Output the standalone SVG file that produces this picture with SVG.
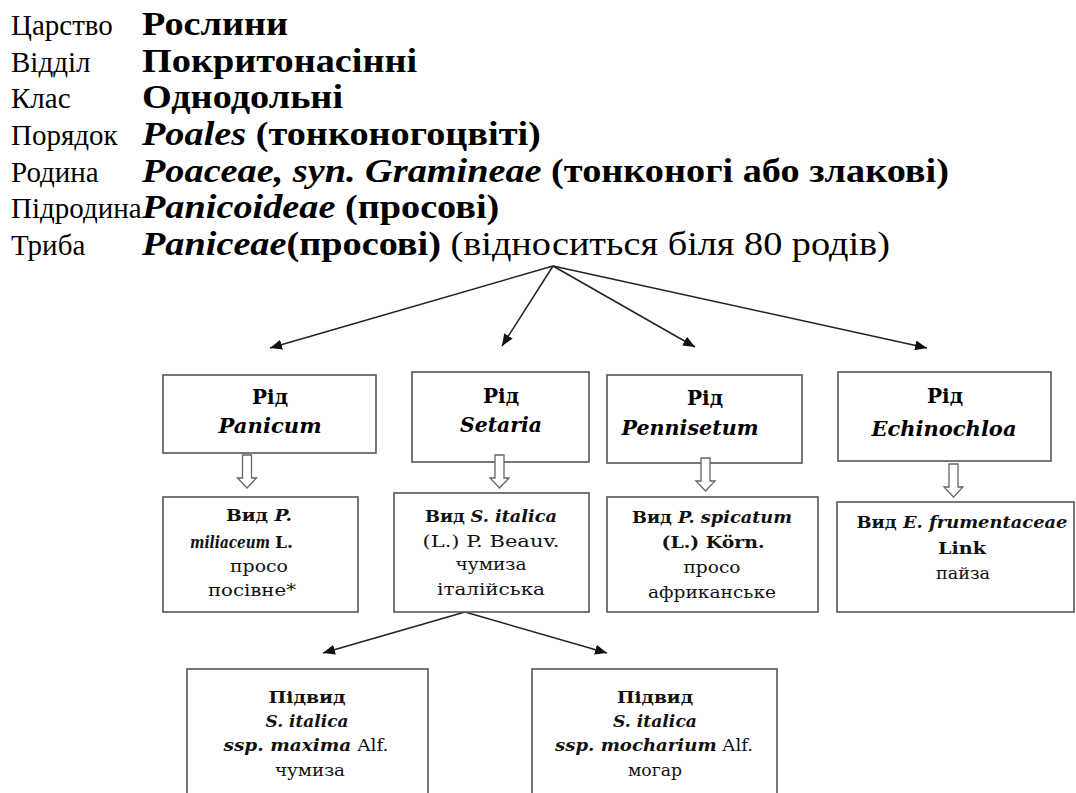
<svg xmlns="http://www.w3.org/2000/svg" width="1076" height="793" viewBox="0 0 1076 793">
<style>
.t{font-family:"Liberation Serif","Times New Roman",serif;font-size:29px;fill:#000}
.v{font-family:"Liberation Serif","Times New Roman",serif;font-size:33px;font-weight:bold;fill:#000}
.r{font-weight:normal}
.b{font-weight:bold}
.i{font-style:italic}
.bx{fill:#fff;stroke:#555;stroke-width:1.6}
.g{font-family:"DejaVu Serif",serif;font-size:20px;font-weight:bold;text-anchor:middle;fill:#000}
.s{font-family:"DejaVu Serif",serif;font-size:17px;text-anchor:middle;fill:#111}
.st{text-anchor:start}
.ln{stroke:#222;stroke-width:1.5;fill:none}
.ha{fill:#fff;stroke:#666;stroke-width:1.3}
</style>
<defs>
<marker id="ah" viewBox="0 0 12 10" refX="12" refY="5" markerWidth="12" markerHeight="10" markerUnits="userSpaceOnUse" orient="auto"><path d="M0,0 L12,5 L0,10 z" fill="#111"/></marker>
</defs>
<rect width="1076" height="793" fill="#fff"/>
<g id="taxonomy">
<text class="t" x="11" y="35">Царство</text>
<text class="t" x="11" y="72">Відділ</text>
<text class="t" x="11" y="108">Клас</text>
<text class="t" x="11" y="145">Порядок</text>
<text class="t" x="11" y="182">Родина</text>
<text class="t" x="11" y="218">Підродина</text>
<text class="t" x="11" y="255">Триба</text>
<g transform="translate(142,0) scale(1.16,1)">
<text class="v" x="0" y="35">Рослини</text>
<text class="v" x="0" y="72">Покритонасінні</text>
<text class="v" x="0" y="108">Однодольні</text>
<text class="v" x="0" y="145"><tspan class="i">Poales</tspan> (тонконогоцвіті)</text>
<text class="v" x="0" y="182"><tspan class="i">Poaceae, syn. Gramineae</tspan> (тонконогі або злакові)</text>
<text class="v" x="0" y="218"><tspan class="i">Panicoideae</tspan> (просові)</text>
<text class="v" x="0" y="255"><tspan class="i">Paniceae</tspan>(просові)<tspan class="r"> (відноситься біля 80 родів)</tspan></text>
</g>
</g>
<g id="connectors">
<line class="ln" x1="553" y1="266" x2="270" y2="348" marker-end="url(#ah)"/>
<line class="ln" x1="553" y1="266" x2="502" y2="346" marker-end="url(#ah)"/>
<line class="ln" x1="553" y1="266" x2="695" y2="347" marker-end="url(#ah)"/>
<line class="ln" x1="553" y1="266" x2="927" y2="348" marker-end="url(#ah)"/>
<line class="ln" x1="465" y1="612" x2="323" y2="653" marker-end="url(#ah)"/>
<line class="ln" x1="465" y1="612" x2="607" y2="653" marker-end="url(#ah)"/>
</g>
<g id="genus-panicum">
<rect class="bx" x="163" y="375" width="213" height="78"/>
<text class="g" x="270" y="404">Рід</text>
<text class="g i" x="270" y="433" textLength="103" lengthAdjust="spacingAndGlyphs">Panicum</text>
</g>
<g id="genus-setaria">
<rect class="bx" x="412" y="372" width="177" height="90"/>
<text class="g" x="501" y="403">Рід</text>
<text class="g i" x="501" y="432" textLength="82" lengthAdjust="spacingAndGlyphs">Setaria</text>
</g>
<g id="genus-pennisetum">
<rect class="bx" x="607" y="375" width="195" height="88"/>
<text class="g" x="705" y="405">Рід</text>
<text class="g i" x="690" y="435" textLength="137" lengthAdjust="spacingAndGlyphs">Pennisetum</text>
</g>
<g id="genus-echinochloa">
<rect class="bx" x="838" y="372" width="213" height="89"/>
<text class="g" x="945" y="403">Рід</text>
<text class="g i" x="944" y="436" textLength="145" lengthAdjust="spacingAndGlyphs">Echinochloa</text>
</g>
<g id="species-panicum">
<rect class="bx" x="163" y="497" width="195" height="115"/>
<text class="s b" x="259" y="521" textLength="66" lengthAdjust="spacingAndGlyphs">Вид <tspan class="i">P.</tspan></text>
<text class="s b i st" x="190" y="548" textLength="80" lengthAdjust="spacingAndGlyphs">miliaceum</text>
<text class="s b st" x="275" y="548">L.</text>
<text class="s" x="259" y="572" textLength="58" lengthAdjust="spacingAndGlyphs">просо</text>
<text class="s" x="252" y="596" textLength="88" lengthAdjust="spacingAndGlyphs">посівне*</text>
</g>
<g id="species-setaria">
<rect class="bx" x="394" y="493" width="195" height="119"/>
<text class="s" x="491" y="522" textLength="132" lengthAdjust="spacingAndGlyphs"><tspan class="b">Вид</tspan> <tspan class="i b">S. italica</tspan></text>
<text class="s" x="491" y="547" textLength="137" lengthAdjust="spacingAndGlyphs">(L.) P. Beauv.</text>
<text class="s" x="491" y="570" textLength="71" lengthAdjust="spacingAndGlyphs">чумиза</text>
<text class="s" x="491" y="595" textLength="108" lengthAdjust="spacingAndGlyphs">італійська</text>
</g>
<g id="species-pennisetum">
<rect class="bx" x="607" y="497" width="211" height="115"/>
<text class="s b" x="712" y="523" textLength="160" lengthAdjust="spacingAndGlyphs">Вид <tspan class="i">P. spicatum</tspan></text>
<text class="s b" x="713" y="548" textLength="103" lengthAdjust="spacingAndGlyphs">(L.) Körn.</text>
<text class="s" x="712" y="573" textLength="57" lengthAdjust="spacingAndGlyphs">просо</text>
<text class="s" x="712" y="598" textLength="128" lengthAdjust="spacingAndGlyphs">африканське</text>
</g>
<g id="species-echinochloa">
<rect class="bx" x="837" y="502" width="237" height="110"/>
<text class="s b" x="962" y="528" textLength="211" lengthAdjust="spacingAndGlyphs">Вид <tspan class="i">E. frumentaceae</tspan></text>
<text class="s b" x="962" y="554" textLength="48" lengthAdjust="spacingAndGlyphs">Link</text>
<text class="s" x="963" y="579" textLength="54" lengthAdjust="spacingAndGlyphs">пайза</text>
</g>
<g id="hollow-arrows">
<path class="ha" d="M242.5,455 H251.5 V478 H256.5 L247,488 L237.5,478 H242.5 Z"/>
<path class="ha" d="M495,455 H504 V478 H509 L499.5,488 L490,478 H495 Z"/>
<path class="ha" d="M701,458 H710 V481 H715 L705.5,491 L696,481 H701 Z"/>
<path class="ha" d="M949,464 H958 V487 H963 L953.5,497 L944,487 H949 Z"/>
</g>
<g id="subspecies-maxima">
<rect class="bx" x="187" y="669" width="241" height="140"/>
<text class="s b" x="307" y="703" textLength="77" lengthAdjust="spacingAndGlyphs">Підвид</text>
<text class="s b i" x="307" y="727" textLength="83" lengthAdjust="spacingAndGlyphs">S. italica</text>
<text class="s" x="306" y="751" textLength="165" lengthAdjust="spacingAndGlyphs"><tspan class="b i">ssp. maxima</tspan> Alf.</text>
<text class="s" x="310" y="776" textLength="70" lengthAdjust="spacingAndGlyphs">чумиза</text>
</g>
<g id="subspecies-mocharium">
<rect class="bx" x="532" y="669" width="245" height="140"/>
<text class="s b" x="655" y="703" textLength="76" lengthAdjust="spacingAndGlyphs">Підвид</text>
<text class="s b i" x="655" y="727" textLength="84" lengthAdjust="spacingAndGlyphs">S. italica</text>
<text class="s" x="654" y="751" textLength="198" lengthAdjust="spacingAndGlyphs"><tspan class="b i">ssp. mocharium</tspan> Alf.</text>
<text class="s" x="655" y="776" textLength="54" lengthAdjust="spacingAndGlyphs">могар</text>
</g>
</svg>
